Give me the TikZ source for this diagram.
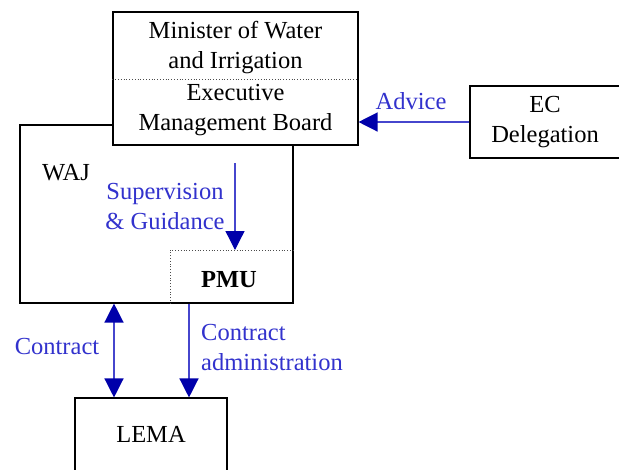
\documentclass[tikz,border=0pt]{standalone}
\usepackage{fontspec}
\setmainfont{Liberation Serif}
\usetikzlibrary{arrows.meta}
\definecolor{lineblue}{RGB}{70,70,205}
\definecolor{tipblue}{RGB}{0,0,170}
\definecolor{txtblue}{RGB}{50,50,205}
\begin{document}
\begin{tikzpicture}[x=1pt,y=-1pt,
  box/.style={draw,line width=1.1pt,fill=white,inner sep=0pt},
  lbl/.style={font=\fontsize{24.5}{30}\selectfont,align=center,inner sep=0pt},
  blbl/.style={lbl,text=txtblue},
  tip/.tip={Triangle[length=19pt,width=19pt,color=tipblue]},
  flow/.style={draw=lineblue,line width=1.3pt,-tip},
  flow2/.style={draw=lineblue,line width=1.3pt,tip-tip},
  sep/.style={dotted,line width=0.8pt,draw=black!70}]
\clip (0,0) rectangle (619,469);
\fill[white] (0,0) rectangle (619,469);
% boxes
\node[box,minimum width=273pt,minimum height=178pt] (waj) at (156.5,214) {};
\node[box,minimum width=245pt,minimum height=133pt] (top) at (235.5,78.5) {};
\node[box,minimum width=150pt,minimum height=72pt] (ec) at (545,122) {};
\node[box,minimum width=152pt,minimum height=84pt] (lema) at (151,440) {};
% separators
\coordinate (sepy) at (0,79);
\draw[sep] (top.west |- sepy) -- (top.east |- sepy);
\coordinate (pmucorner) at (170,250);
\draw[sep] (waj.south -| pmucorner) -- (pmucorner) -- (waj.east |- pmucorner);
% texts
\node[lbl] (mwi) at (235.5,47.5) {Minister of Water\\and Irrigation};
\node[lbl] (emb) at (235.5,110) {Executive\\Management Board};
\node[lbl] (wajt) at (66,173) {WAJ};
\node[lbl,font=\fontsize{24.5}{30}\selectfont\bfseries] (pmu) at (229,280) {PMU};
\node[lbl] (ect) at (545,122) {EC\\Delegation};
\node[lbl] (lemat) at (151,434) {LEMA};
\node[blbl] (adv) at (411,101) {Advice};
\node[blbl] (sup) at (165,207) {Supervision\\\& Guidance};
\node[blbl] (ctr) at (57,347) {Contract};
\node[blbl,anchor=west,align=left] (cad) at (201,348) {Contract\\administration};
% connectors
\coordinate (supstart) at (235,163);
\draw[flow] (ec.west) -- (ec.west -| top.east);
\draw[flow] (supstart) -- (supstart |- pmucorner);
\coordinate (cx) at (114,0);
\coordinate (ax) at (189,0);
\draw[flow2] (waj.south -| cx) -- (lema.north -| cx);
\draw[flow] (waj.south -| ax) -- (lema.north -| ax);
\end{tikzpicture}
\end{document}
